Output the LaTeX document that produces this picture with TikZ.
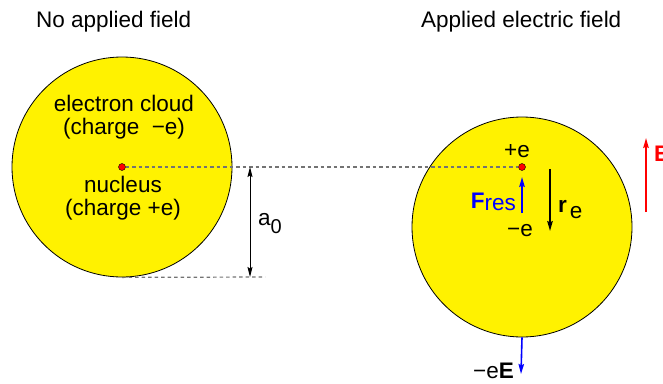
\documentclass[tikz,border=0pt]{standalone}
\usepackage{fontspec}
\setmainfont{Liberation Sans}
\usetikzlibrary{arrows.meta,positioning}

\begin{document}
\begin{tikzpicture}[
    x=1pt, y=-1pt,
    atom/.style={circle, draw=black, line width=0.8pt, fill=yellow, minimum size=220pt, inner sep=0pt},
    nucleus/.style={circle, draw=black, line width=0.4pt, fill=red, minimum size=7pt, inner sep=0pt},
    txt/.style={font=\fontsize{22.5}{23}\selectfont, inner sep=0pt, align=center},
    guide/.style={draw=black!55, line width=1.2pt, dash pattern=on 3.5pt off 3pt},
    arrow/.style={-{Stealth[length=10pt, width=5.5pt, inset=1.5pt]}, line width=1.6pt},
    dimarrow/.style={{Stealth[length=10pt, width=5pt, inset=1.5pt]}-{Stealth[length=10pt, width=5pt, inset=1.5pt]}, line width=1pt}
]
\useasboundingbox (0,0) rectangle (663,383);

% Titles
\node[txt, anchor=base west] (titleL) at (36,27) {No applied field};
\node[txt, anchor=base west] (titleR) at (421,27) {Applied electric field};

% Atom without field
\node[atom] (atomL) at (122,167) {};
\node[nucleus] (nucL) at (122,167) {};
\node[txt] (cloudtxt) at (124,117.5) {electron cloud\\(charge \ −e)};
\node[txt] (nuctxt) at (123,198) {nucleus\\(charge +e)};

% Atom in applied field
\node[atom] (atomR) at (522,227) {};
\node[nucleus] (nucR) at (522,167) {};
\node[txt, anchor=base] (plus) at (517,157) {+e};
\node[txt, anchor=base] (minus) at (520,236) {−e};

% Guide lines and radius
\coordinate (guideend) at (265,277);
\coordinate (a0top) at (250,167);
\coordinate (a0bot) at (250,277);
\draw[guide] (nucL) -- (nucR);
\draw[guide] (atomL.south) -- (guideend);
\draw[dimarrow] (a0top) -- (a0bot);
\node[txt, anchor=base west] (radius) at (258,225) {a\raisebox{-8pt}{\fontsize{20}{20}\selectfont 0}};

% Forces and displacement
\coordinate (fres0) at (522,213);
\coordinate (fres1) at (522,177);
\coordinate (re0) at (550,169);
\coordinate (re1) at (550,231);
\coordinate (field0) at (646,212);
\coordinate (field1) at (646,138);
\coordinate (force1) at (521,374);
\draw[arrow, blue] (fres0) -- (fres1);
\draw[arrow, black] (re0) -- (re1);
\draw[arrow, red] (field0) -- (field1);
\draw[arrow, blue] (atomR.south) -- (force1);

\node[txt, anchor=base east, text=blue] (fres) at (516,208) {\textbf{F}\raisebox{-2.5pt}{res}};
\node[txt, anchor=base west] (re) at (558,212) {\textbf{r}\hspace{3pt}\raisebox{-6pt}{e}};
\node[txt, anchor=base west, text=red] (field) at (654,161) {\textbf{E}};
\node[txt, anchor=base east] (force) at (514,378) {−e\textbf{E}};

\end{tikzpicture}
\end{document}
